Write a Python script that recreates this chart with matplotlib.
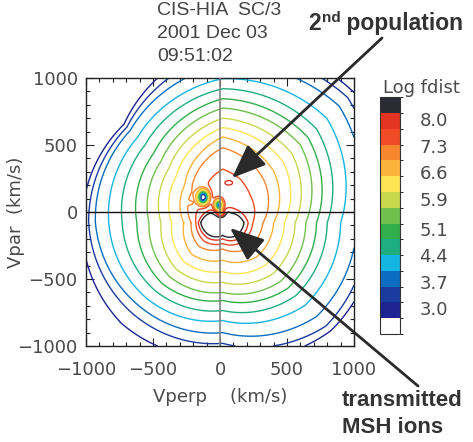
import numpy as np
import matplotlib
matplotlib.use("Agg")
import matplotlib.pyplot as plt
from matplotlib.colors import ListedColormap, BoundaryNorm
from matplotlib.cm import ScalarMappable
from matplotlib.patches import FancyArrowPatch
from matplotlib.ticker import MultipleLocator

# ---------------- data ----------------
level_min = 2.32          # bottom of colour bar (Log fdist)
level_step = 0.4173       # size of one colour block
n_blocks = 15
block_colors = ['#ffffff', '#1e2491', '#1b3c9f', '#0b6dbf', '#14b5e0', '#1eae80',
                '#32ae4a', '#70c04e', '#c8d74e', '#fde453', '#fbb33b', '#f7862f',
                '#f04b26', '#e23421', '#2b2c33']
cbar_ticks = [3.0, 3.7, 4.4, 5.1, 5.9, 6.6, 7.3, 8.0]

# core of the distribution (km/s) and peak value
core_center = (20.0, -80.0)
core_peak = 8.45
# directions (deg) in which the contour radii were read
directions_deg = [0, 45, 90, 135, 180, 225, 270, 315]
# contour radii (km/s) from the core, innermost (black) -> outermost (navy)
radii_E  = [160, 190, 225, 300, 380, 460, 540, 620, 700, 780, 880, 1000, 1080, 1150]
radii_NE = [100, 140, 290, 440, 540, 640, 730, 820, 900, 990, 1100, 1230, 1320, 1380]
radii_N  = [78, 105, 400, 560, 640, 710, 780, 855, 925, 1000, 1075, 1180, 1270, 1350]
radii_NW = [110, 135, 220, 330, 400, 490, 570, 650, 730, 820, 900, 975, 1010, 1040]
radii_W  = [165, 182, 200, 235, 290, 380, 460, 550, 640, 750, 850, 950, 1000, 1050]
radii_SW = [135, 160, 195, 250, 330, 410, 490, 565, 640, 715, 800, 880, 955, 1065]
radii_S  = [95, 120, 155, 195, 280, 365, 445, 520, 580, 655, 730, 820, 900, 1000]
radii_SE = [140, 170, 205, 270, 360, 450, 535, 615, 690, 770, 870, 990, 1090, 1140]

# local features: holes near the origin, 2nd population, small dip on the left
feature_x   = [-125.0, -10.0, 5.0, 68.0, -225.0]
feature_y   = [110.0, 52.0, -8.0, 220.0, 68.0]
feature_sx  = [27.0, 22.0, 15.0, 35.0, 18.0]
feature_sy  = [33.0, 28.0, 14.0, 20.0, 9.0]
feature_amp = [-5.6, -4.2, -2.6, 0.42, -0.4]

x_ticks = [-1000, -500, 0, 500, 1000]
y_ticks = [-1000, -500, 0, 500, 1000]

# ---------------- build field ----------------
bounds = level_min + level_step * np.arange(n_blocks + 1)
levels = bounds[1:n_blocks]            # 14 contour levels
line_colors = block_colors[1:n_blocks]

v = np.linspace(-1000, 1000, 801)
X, Y = np.meshgrid(v, v)
dx = X - core_center[0]
dy = Y - core_center[1]
r = np.hypot(dx, dy)
theta = np.degrees(np.arctan2(dy, dx)) % 360

radii = np.array([radii_E, radii_NE, radii_N, radii_NW,
                  radii_W, radii_SW, radii_S, radii_SE], dtype=float)
ang = np.array(directions_deg, dtype=float)
ang_ext = np.concatenate([[ang[-1] - 360], ang, [ang[0] + 360]])
rad_ext = np.vstack([radii[-1:], radii, radii[:1]])
R = np.stack([np.interp(theta, ang_ext, rad_ext[:, k]) for k in range(radii.shape[1])], axis=-1)
rr = np.concatenate([np.zeros(r.shape + (1,)), R, R[..., -1:] + 300], axis=-1)
vals = np.concatenate([[core_peak], levels[::-1], [2.0]])
idx = np.clip(np.sum(r[..., None] >= rr, axis=-1) - 1, 0, rr.shape[-1] - 2)
r0 = np.take_along_axis(rr, idx[..., None], -1)[..., 0]
r1 = np.take_along_axis(rr, idx[..., None] + 1, -1)[..., 0]
Z = vals[idx] + (vals[idx + 1] - vals[idx]) * (r - r0) / (r1 - r0)
for fx, fy, sx, sy, a in zip(feature_x, feature_y, feature_sx, feature_sy, feature_amp):
    Z = Z + a * np.exp(-0.5 * (((X - fx) / sx) ** 2 + ((Y - fy) / sy) ** 2))

# ---------------- figure ----------------
W_PX, H_PX = 473, 442
fig = plt.figure(figsize=(W_PX / 100, H_PX / 100), dpi=100)
def fx_(x): return x / W_PX
def fy_(y): return 1 - y / H_PX

TXT = '#4a4a4a'
ax = fig.add_axes([fx_(86), fy_(346), (354 - 86) / W_PX, (346 - 78) / H_PX])
ax.contour(X, Y, Z, levels=levels, colors=line_colors, linewidths=1.0)
ax.axvline(0, color='#808080', lw=1.2, zorder=3)
ax.axhline(0, color='#111111', lw=1.0, zorder=3)
ax.set_xlim(-1000, 1000)
ax.set_ylim(-1000, 1000)
ax.set_xticks(x_ticks)
ax.set_yticks(y_ticks)
ax.xaxis.set_minor_locator(MultipleLocator(100))
ax.yaxis.set_minor_locator(MultipleLocator(100))
ax.tick_params(which='both', direction='in', top=True, right=True, color='#222222')
ax.tick_params(which='major', length=6, width=0.8)
ax.tick_params(which='minor', length=3, width=0.8)
ax.tick_params(axis='x', labelsize=13, labelcolor=TXT, pad=11)
ax.tick_params(axis='y', labelsize=13, labelcolor=TXT, pad=6)
for s in ax.spines.values():
    s.set_color('#222222')
    s.set_linewidth(1.0)
ax.set_xlabel('Vperp    (km/s)', fontsize=13, color=TXT, labelpad=6)
fig.text(fx_(16), fy_(212), 'Vpar  (km/s)', fontsize=13, color=TXT,
         rotation=90, ha='center', va='center')

# colour bar
cax = fig.add_axes([fx_(380), fy_(334), 20 / W_PX, (334 - 97.3) / H_PX])
sm = ScalarMappable(norm=BoundaryNorm(bounds, n_blocks), cmap=ListedColormap(block_colors))
cb = fig.colorbar(sm, cax=cax, ticks=cbar_ticks, spacing='proportional')
cb.ax.set_yticklabels([f'{t:.1f}' for t in cbar_ticks])
cb.ax.tick_params(length=0, labelsize=13, labelcolor=TXT, pad=14)
cb.outline.set_edgecolor('#333333')
cb.outline.set_linewidth(0.8)
fig.text(fx_(383), fy_(93), 'Log fdist', fontsize=13, color=TXT, va='baseline')

# header
hdr_font = dict(family='Liberation Sans', fontsize=14, color='#444444', va='baseline')
fig.text(fx_(157), fy_(15), 'CIS-HIA  SC/3', **hdr_font)
fig.text(fx_(157), fy_(38), '2001 Dec 03', **hdr_font)
fig.text(fx_(157), fy_(61), '09:51:02', **hdr_font)

# annotations
bold = dict(family='Liberation Sans', fontweight='bold', color='#333333', va='baseline')
renderer = fig.canvas.get_renderer()
t1 = fig.text(fx_(308), fy_(30), '2', fontsize=16.5, **bold)
e1 = t1.get_window_extent(renderer)
t2 = fig.text(e1.x1 / fig.bbox.width + 0.002, fy_(22), 'nd', fontsize=11, **bold)
e2 = t2.get_window_extent(renderer)
fig.text(e2.x1 / fig.bbox.width, fy_(30), ' population', fontsize=16.5, **bold)

fig.text(fx_(342), fy_(406), 'transmitted', fontsize=16, **bold)
fig.text(fx_(342), fy_(433), 'MSH ions', fontsize=16, **bold)

for (xa, ya), (xb, yb) in [((382, 38), (232, 178)), ((418, 386), (230, 228))]:
    arr = FancyArrowPatch((fx_(xa), fy_(ya)), (fx_(xb), fy_(yb)), transform=fig.transFigure,
                          arrowstyle='-|>,head_length=1.5,head_width=0.6', mutation_scale=14,
                          lw=2.0, color='#2a2a2a', shrinkA=0, shrinkB=0, zorder=10)
    fig.add_artist(arr)

fig.savefig('out.png', dpi=100)
